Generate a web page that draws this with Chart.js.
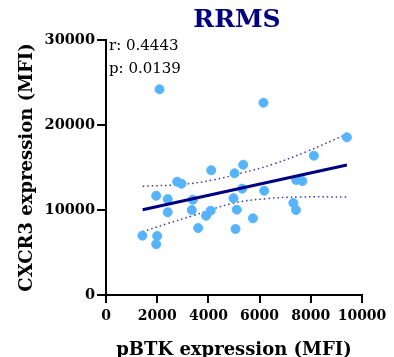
<!DOCTYPE html>
<html><head><meta charset="utf-8">
<script src="https://cdn.jsdelivr.net/npm/chart.js@4/dist/chart.umd.min.js"></script>
<style>html,body{margin:0;padding:0;background:#fff;}canvas{display:block;}</style>
</head><body>
<canvas id="c" width="394" height="357"></canvas>
<script>
const chartTitle = 'RRMS';
const xTitle = 'pBTK expression (MFI)';
const yTitle = 'CXCR3 expression (MFI)';
const statsText = ['r: 0.4443', 'p: 0.0139'];
const pbtk  = [1420,2000,1960,1960,2410,2410,2780,2950,3390,3350,3600,3910,4090,4110,4980,5020,5110,5060,5320,5360,5740,6180,7320,7420,7430,7670,8120,9410,2090,6150];
const cxcr3 = [6980,6940,5970,11680,11290,9730,13330,13090,11210,10000,7880,9330,9920,14670,11380,14320,10040,7770,12510,15330,9020,12270,10820,10000,13530,13410,16390,18550,24200,22620];
const fitX = [1430, 9410];
const fitY = [10040, 15290];
const upperX = [1430,3000,4170,5345,6520,7825,9415];
const upperY = [12790,13020,13530,14390,15380,16860,18940];
const lowerX = [1430,2350,3390,4960,6260,7560,9410];
const lowerY = [7450,8350,9330,10790,11330,11530,11530];

const pts = (xs, ys) => xs.map((x, i) => ({x: x, y: ys[i]}));
const serif = "'DejaVu Serif', serif";

const overlay = {
  id: 'overlay',
  afterDraw(chart) {
    const ctx = chart.ctx, a = chart.chartArea;
    ctx.save();
    ctx.fillStyle = '#000080';
    ctx.font = "bold 25px " + serif;
    ctx.textAlign = 'center';
    ctx.textBaseline = 'middle';
    ctx.fillText(chartTitle, (a.left + a.right) / 2 + 3, 20);
    ctx.fillStyle = '#000';
    ctx.font = "15px " + serif;
    ctx.textAlign = 'left';
    ctx.textBaseline = 'alphabetic';
    ctx.fillText(statsText[0], a.left + 3, 50);
    ctx.fillText(statsText[1], a.left + 3, 73);
    ctx.restore();
  }
};

new Chart(document.getElementById('c'), {
  type: 'scatter',
  data: {
    datasets: [
      {data: pts(upperX, upperY), type: 'line', showLine: true, borderColor: '#3a3aa8', borderWidth: 1.5, borderDash: [1.5, 3], pointRadius: 0, tension: 0.4, fill: false, order: 3},
      {data: pts(lowerX, lowerY), type: 'line', showLine: true, borderColor: '#3a3aa8', borderWidth: 1.5, borderDash: [1.5, 3], pointRadius: 0, tension: 0.4, fill: false, order: 3},
      {data: pts(pbtk, cxcr3), backgroundColor: '#55b4fb', borderColor: '#55b4fb', pointRadius: 4.5, pointHoverRadius: 4.5, order: 2},
      {data: pts(fitX, fitY), type: 'line', showLine: true, borderColor: '#000080', borderWidth: 3, pointRadius: 0, fill: false, order: 1}
    ]
  },
  options: {
    responsive: false,
    devicePixelRatio: 1,
    animation: false,
    layout: {padding: {top: 40, right: 32, left: 17, bottom: 0}},
    plugins: {legend: {display: false}, tooltip: {enabled: false}, title: {display: false}},
    scales: {
      x: {
        type: 'linear', min: 0, max: 10000,
        ticks: {stepSize: 2000, autoSkip: false, color: '#000', font: {family: serif, size: 14, weight: 'bold'}, padding: 5, maxRotation: 0, callback: v => String(v)},
        grid: {drawOnChartArea: false, drawTicks: true, tickLength: 8, color: '#000', lineWidth: 2},
        border: {display: true, color: '#000', width: 2},
        title: {display: true, text: xTitle, color: '#000', font: {family: serif, size: 18, weight: 'bold'}, padding: {top: 8, bottom: -4}},
        afterFit(s) { s.height = 62; }
      },
      y: {
        type: 'linear', min: 0, max: 30000,
        ticks: {stepSize: 10000, autoSkip: false, color: '#000', font: {family: serif, size: 14.5, weight: 'bold'}, padding: 2, callback: v => String(v)},
        grid: {drawOnChartArea: false, drawTicks: true, tickLength: 9, color: '#000', lineWidth: 2},
        border: {display: true, color: '#000', width: 2},
        title: {display: true, text: yTitle, color: '#000', font: {family: serif, size: 18, weight: 'bold'}, padding: {top: 0, bottom: 4}},
        afterFit(s) { s.width = 89; }
      }
    }
  },
  plugins: [overlay]
});
</script>
</body></html>
